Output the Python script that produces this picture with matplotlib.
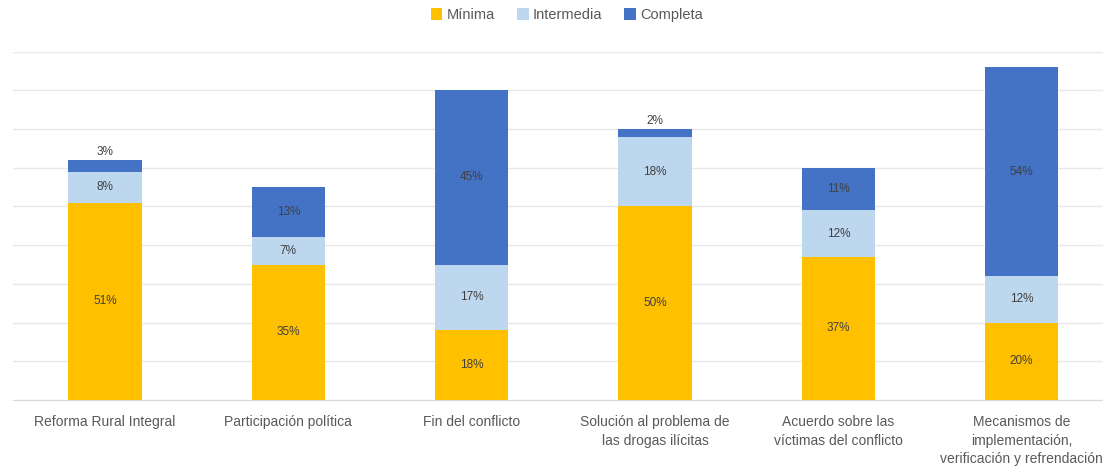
import numpy as np
import matplotlib
matplotlib.use("Agg")
import matplotlib.pyplot as plt

# Data (percent)
categories = [
    "Reforma Rural Integral",
    "Participación política",
    "Fin del conflicto",
    "Solución al problema de\nlas drogas ilícitas",
    "Acuerdo sobre las\nvíctimas del conflicto",
    "Mecanismos de\nimplementación,\nverificación y refrendación",
]
minima = [51, 35, 18, 50, 37, 20]
intermedia = [8, 7, 17, 18, 12, 12]
completa = [3, 13, 45, 2, 11, 54]
series_names = ["Mínima", "Intermedia", "Completa"]
series_colors = ["#FFC000", "#BDD7EE", "#4472C4"]

plt.rcParams['font.family'] = ['Liberation Sans', 'DejaVu Sans']

fig = plt.figure(figsize=(11.03, 4.69), dpi=100)
ax = fig.add_axes([13.3 / 1103, 1 - 400 / 469, 1100 / 1103, (400 - 51.7) / 469])

x = np.arange(len(categories))
bottom = np.zeros(len(categories))
for name, vals, col in zip(series_names, [minima, intermedia, completa], series_colors):
    vals = np.array(vals, dtype=float)
    ax.bar(x, vals, width=0.4, bottom=bottom, color=col, label=name, zorder=3)
    for xi, b, v in zip(x, bottom, vals):
        if v >= 5:
            ax.text(xi, b + v / 2, f"{int(v)}%", ha="center", va="center",
                    fontsize=8.5, color="#404040", zorder=4)
        else:
            # small segments get their label just above the bar
            ax.text(xi, b + v + 0.6, f"{int(v)}%", ha="center", va="bottom",
                    fontsize=8.5, color="#404040", zorder=4)
    bottom += vals

ax.set_xlim(-0.5, len(categories) - 0.5)
ax.set_ylim(0, 90)
ax.set_yticks(np.arange(0, 91, 10))
ax.yaxis.grid(True, color="#e8e8e8", linewidth=1, zorder=0)
ax.tick_params(axis="y", left=False, labelleft=False)
ax.tick_params(axis="x", length=0, pad=11, labelsize=10, labelcolor="#595959")
ax.set_xticks(x)
ax.set_xticklabels(categories, linespacing=1.4, va="top")
for s in ["top", "right", "left"]:
    ax.spines[s].set_visible(False)
ax.spines["bottom"].set_color("#d9d9d9")
ax.set_axisbelow(True)

fig.legend(loc="center", bbox_to_anchor=(567 / 1103, 1 - 15 / 469), ncol=3, frameon=False,
           fontsize=10.5, handlelength=0.8, handleheight=0.8, handletextpad=0.3,
           columnspacing=1.5, labelcolor="#595959")

fig.savefig("out.png", dpi=100)
